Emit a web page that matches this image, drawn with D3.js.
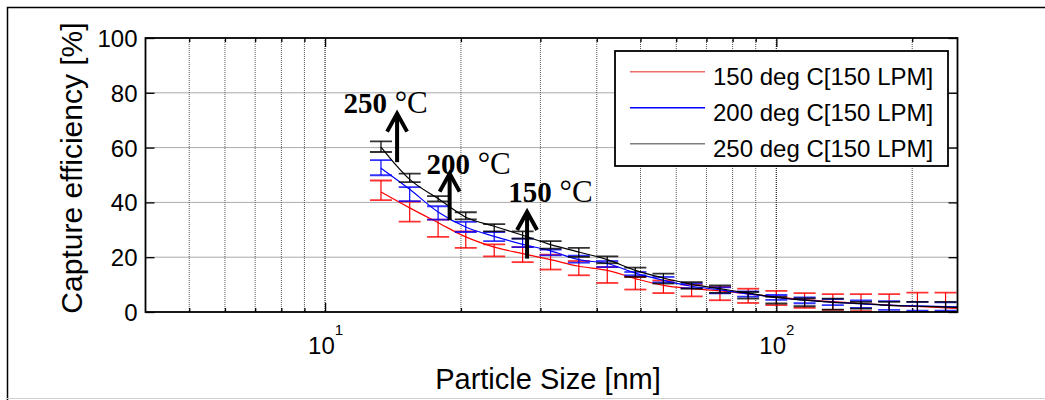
<!DOCTYPE html>
<html lang="en">
<head>
<meta charset="UTF-8">
<title>Capture efficiency vs particle size</title>
<style>
  body { margin: 0; background: #fff; }
  svg text { font-family: Arial, "Liberation Sans", sans-serif; fill: #000; }
</style>
</head>
<body>
<script src="https://cdn.jsdelivr.net/npm/d3@7/dist/d3.min.js"></script>
<script>
    // particle size channels [nm] (16 per decade)
    const sizes = [13.3, 15.4, 17.8, 20.5, 23.7, 27.4, 31.6, 36.5, 42.2, 48.7, 56.2,
                   64.9, 75.0, 86.6, 100, 115.5, 133.4, 154.0, 177.8, 205.4, 237.1, 273.8];

    // 150 deg C
    const mean150 = [43.8, 38.0, 32.6, 27.4, 23.7, 21.3, 19.1, 16.7, 15.2, 12.2, 9.7, 8.5, 7.7, 6.6, 5.5, 4.5, 3.8, 3.1, 2.5, 2.0, 1.5, 1.2];
    const lo150   = [40.8, 33.0, 27.4, 23.4, 20.3, 18.2, 15.5, 13.4, 10.6, 8.2, 6.9, 5.7, 4.3, 3.3, 2.5, 1.5, 0.8, 0.3, 0.0, 0.0, 0.0, 0.0];
    const hi150   = [48.0, 40.3, 33.7, 29.4, 24.7, 23.7, 20.9, 18.6, 16.4, 12.8, 11.5, 10.0, 9.1, 8.5, 7.7, 6.9, 6.5, 6.5, 6.5, 7.1, 7.1, 7.1];
    // 200 deg C
    const mean200 = [52.5, 44.8, 36.5, 31.0, 27.6, 24.7, 22.3, 19.1, 17.7, 14.2, 11.6, 9.4, 8.1, 6.6, 5.3, 4.3, 3.6, 3.0, 2.5, 2.2, 2.0, 1.8];
    const lo200   = [49.9, 40.5, 33.7, 29.2, 25.9, 23.7, 20.7, 18.0, 16.4, 13.4, 10.8, 8.7, 6.8, 5.6, 4.4, 3.2, 2.5, 1.5, 0.8, 0.5, 0.5, 0.5];
    const hi200   = [55.4, 45.6, 38.6, 32.9, 29.2, 26.8, 22.8, 20.6, 18.6, 14.6, 12.8, 10.4, 9.0, 7.5, 6.2, 5.3, 4.7, 4.2, 4.0, 3.7, 3.5, 3.5];
    // 250 deg C
    const mean250 = [60.2, 48.4, 41.4, 34.6, 31.3, 28.0, 24.6, 21.9, 19.1, 15.2, 12.4, 10.1, 8.5, 6.9, 5.3, 4.3, 3.5, 3.1, 2.4, 2.1, 1.8, 1.5];
    const lo250   = [58.4, 47.4, 40.4, 33.8, 29.4, 26.8, 23.1, 20.1, 17.8, 12.8, 10.4, 8.5, 7.0, 4.9, 3.1, 2.1, 0.9, 1.2, 0.0, 0.0, 0.0, 0.0];
    const hi250   = [62.3, 50.5, 42.3, 36.4, 32.1, 29.4, 25.9, 23.4, 20.3, 16.2, 14.0, 10.9, 9.7, 7.3, 5.5, 5.0, 4.9, 3.7, 3.7, 3.7, 3.7, 3.7];

    const seriesNames = ["150 deg C[150 LPM]", "200 deg C[150 LPM]", "250 deg C[150 LPM]"];
    const lineColors = ["#ff0000", "#0000ff", "#000000"];
    const legendColors = ["#f26b6b", "#0000ff", "#7f7f7f"];

    const yTicks = [0, 20, 40, 60, 80, 100];
    const xMajor = [10, 100];
    const xMinor = [5, 6, 7, 8, 9, 20, 30, 40, 50, 60, 70, 80, 90, 200];

    // arrows: x position, start and end in % ; labels anchored at their left baseline
    const arrowX = [14.44, 18.88, 28.03];
    const arrowFrom = [54.7, 33.5, 19.5];
    const arrowTo = [72.4, 50.5, 36.5];
    const tempLabels = ["250", "200", "150"];
    const labelX = [10.98, 16.77, 25.47];
    const labelY = [72.6, 50.3, 40.1];

    const series = [
        {name: seriesNames[0], mean: mean150, lo: lo150, hi: hi150},
        {name: seriesNames[1], mean: mean200, lo: lo200, hi: hi200},
        {name: seriesNames[2], mean: mean250, lo: lo250, hi: hi250}
    ];

    const W = 1045, H = 400;
    const margin = {top: 38, left: 145.5},
        width = 812, height = 274;

    const svg = d3.select("body").append("svg")
        .attr("width", W)
        .attr("height", H);

    // outer frame
    svg.append("path")
        .attr("d", `M7.5,${H} V7.5 H${W}`)
        .attr("fill", "none").attr("stroke", "#000").attr("stroke-width", 1.5);
    svg.append("line")
        .attr("x1", 7).attr("x2", W).attr("y1", 398.5).attr("y2", 398.5)
        .attr("stroke", "#d0d0d0");

    const g = svg.append("g")
        .attr("transform", `translate(${margin.left},${margin.top})`);

    const x = d3.scaleLog().domain([4, 252]).range([0, width]);
    const y = d3.scaleLinear().domain([0, 100]).range([height, 0]);

    // grid
    const grid = g.append("g").attr("class", "grid");
    grid.selectAll("line.gx")
        .data(xMinor.concat(xMajor))
        .join("line")
            .attr("x1", d => x(d)).attr("x2", d => x(d))
            .attr("y1", 0).attr("y2", height)
            .attr("stroke", d => xMajor.includes(d) ? "#333" : "#555")
            .attr("stroke-width", d => xMajor.includes(d) ? 1.3 : 1)
            .attr("stroke-dasharray", "1,1");
    grid.selectAll("line.gy")
        .data(yTicks.slice(1, -1))
        .join("line")
            .attr("x1", 0).attr("x2", width)
            .attr("y1", d => y(d)).attr("y2", d => y(d))
            .attr("stroke", "#555")
            .attr("stroke-dasharray", "1,1");

    // axes (inward ticks, MATLAB style)
    const yAxisL = g.append("g")
        .call(d3.axisLeft(y).tickValues(yTicks).tickSizeInner(-9).tickSizeOuter(0).tickPadding(8));
    yAxisL.selectAll("text").style("font-size", "24px").attr("dy", "0.35em");
    g.append("g").attr("transform", `translate(${width},0)`)
        .call(d3.axisRight(y).tickValues(yTicks).tickSizeInner(-9).tickSizeOuter(0).tickFormat(""));

    const xAxisB = g.append("g").attr("transform", `translate(0,${height})`)
        .call(d3.axisBottom(x).tickValues(xMajor).tickSizeInner(-9).tickSizeOuter(0).tickFormat(""));
    g.append("g").attr("transform", `translate(0,${height})`)
        .call(d3.axisBottom(x).tickValues(xMinor).tickSizeInner(-4).tickSizeOuter(0).tickFormat(""));
    g.append("g")
        .call(d3.axisTop(x).tickValues(xMajor).tickSizeInner(-9).tickSizeOuter(0).tickFormat(""));
    g.append("g")
        .call(d3.axisTop(x).tickValues(xMinor).tickSizeInner(-4).tickSizeOuter(0).tickFormat(""));
    g.selectAll(".domain").remove();
    g.selectAll(".tick line").attr("stroke", "#000").attr("stroke-width", 1.3);

    // x tick labels as 10^n
    xAxisB.selectAll(".tick").each(function (d) {
        const t = d3.select(this).select("text")
            .attr("y", 42).attr("dy", null)
            .style("font-size", "24px")
            .attr("text-anchor", "middle");
        t.append("tspan").text("10");
        t.append("tspan").attr("dy", -19).style("font-size", "15px").text(Math.round(Math.log10(d)));
    });

    // clip for data
    svg.append("defs").append("clipPath").attr("id", "plotclip")
        .append("rect").attr("width", width).attr("height", height);
    const plot = g.append("g").attr("clip-path", "url(#plotclip)");

    const line = d3.line()
        .x((d, i) => x(sizes[i]))
        .y(d => y(d))
        .curve(d3.curveMonotoneX);

    const capW = 11;
    series.forEach((s, k) => {
        const eb = plot.append("g").attr("stroke", lineColors[k]);
        eb.selectAll("line.v")
            .data(sizes)
            .join("line")
                .attr("x1", d => x(d)).attr("x2", d => x(d))
                .attr("y1", (d, i) => y(s.lo[i])).attr("y2", (d, i) => y(s.hi[i]))
                .attr("stroke-width", 1.2);
        eb.selectAll("line.lo")
            .data(sizes)
            .join("line")
                .attr("x1", d => x(d) - capW).attr("x2", d => x(d) + capW)
                .attr("y1", (d, i) => y(s.lo[i])).attr("y2", (d, i) => y(s.lo[i]))
                .attr("stroke-width", 1.8).attr("stroke-opacity", 0.8);
        eb.selectAll("line.hi")
            .data(sizes)
            .join("line")
                .attr("x1", d => x(d) - capW).attr("x2", d => x(d) + capW)
                .attr("y1", (d, i) => y(s.hi[i])).attr("y2", (d, i) => y(s.hi[i]))
                .attr("stroke-width", 1.8).attr("stroke-opacity", 0.8);
        plot.append("path")
            .datum(s.mean)
            .attr("d", line)
            .attr("fill", "none")
            .attr("stroke", lineColors[k])
            .attr("stroke-width", 1.2);
    });

    // plot box
    g.append("rect")
        .attr("width", width).attr("height", height)
        .attr("fill", "none").attr("stroke", "#000").attr("stroke-width", 1.8);

    // arrows + temperature labels
    const ann = g.append("g");
    arrowX.forEach((ax, i) => {
        const px = x(ax), y0 = y(arrowFrom[i]), y1 = y(arrowTo[i]);
        ann.append("line")
            .attr("x1", px).attr("x2", px).attr("y1", y0).attr("y2", y1 + 2)
            .attr("stroke", "#000").attr("stroke-width", 4);
        ann.append("path")
            .attr("d", `M${px - 10},${y1 + 18} L${px},${y1} L${px + 10},${y1 + 18}`)
            .attr("fill", "none").attr("stroke", "#000").attr("stroke-width", 4)
            .attr("stroke-linejoin", "miter");
        const t = ann.append("text")
            .attr("x", x(labelX[i])).attr("y", y(labelY[i]))
            .style("font-family", "'Liberation Serif', 'Times New Roman', serif")
            .style("font-size", "29px");
        t.append("tspan").style("font-weight", "bold").text(tempLabels[i]);
        t.append("tspan").style("font-size", "31px").text(" \u00B0C");
    });

    // legend
    const legend = svg.append("g").attr("transform", "translate(615,51)");
    legend.append("rect")
        .attr("width", 333).attr("height", 115)
        .attr("fill", "#fff").attr("stroke", "#000").attr("stroke-width", 1.8);
    seriesNames.forEach((name, i) => {
        const ly = 20.7 + i * 36;
        legend.append("line")
            .attr("x1", 15).attr("x2", 90).attr("y1", ly).attr("y2", ly)
            .attr("stroke", legendColors[i]).attr("stroke-width", 1.5);
        legend.append("text")
            .attr("x", 98).attr("y", ly + 13.3)
            .style("font-size", "24px")
            .text(name);
    });

    // axis titles
    svg.append("text")
        .attr("transform", "translate(82,168) rotate(-90)")
        .attr("text-anchor", "middle")
        .style("font-size", "30px")
        .text("Capture efficiency [%]");
    svg.append("text")
        .attr("x", 548).attr("y", 389)
        .attr("text-anchor", "middle")
        .style("font-size", "29px")
        .text("Particle Size [nm]");
</script>
</body>
</html>
